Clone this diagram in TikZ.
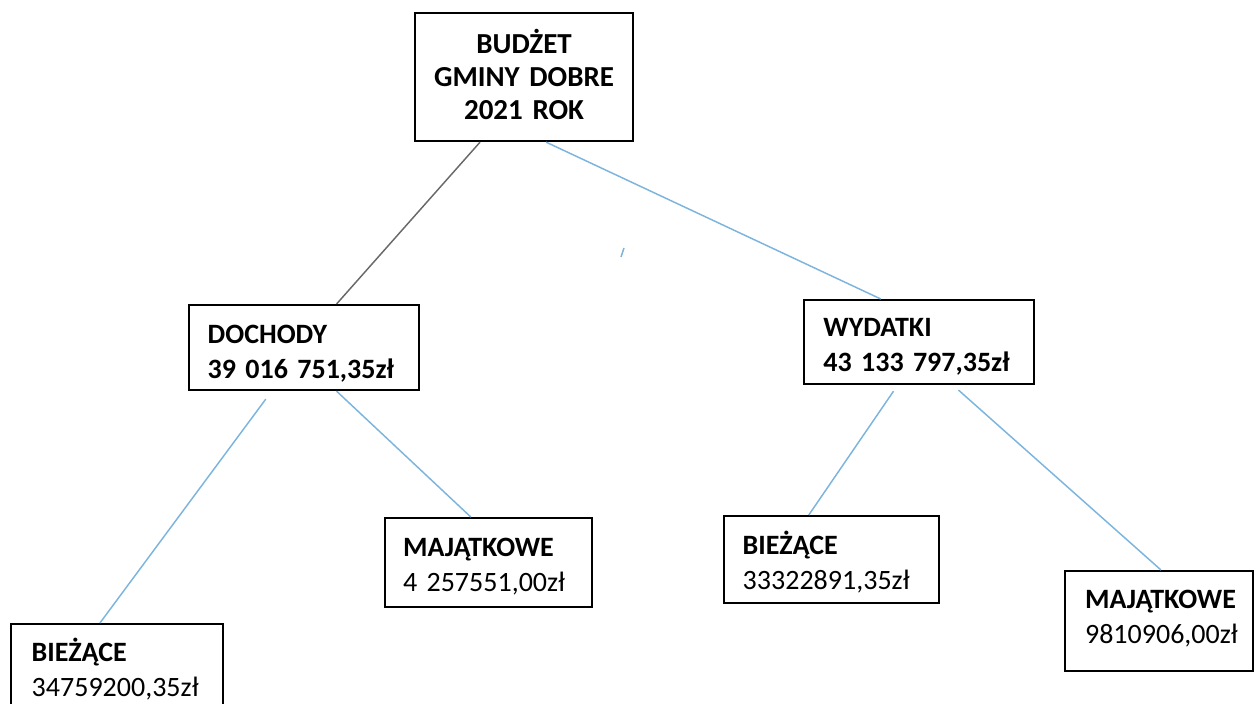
\documentclass[tikz,border=0pt]{standalone}
\usepackage{fontspec}
\setmainfont{Carlito}
\usetikzlibrary{calc}
\definecolor{linkblue}{RGB}{125,180,222}
\definecolor{linkgray}{RGB}{105,105,105}
% first-line strut height and last-line depth (in pt)
\newcommand\topstrut[1]{\rule{0pt}{#1pt}}
\newcommand\botstrut[1]{\rule[-#1pt]{0pt}{0pt}}
\begin{document}
\begin{tikzpicture}[x=0.75pt,y=-0.75pt,
  box/.style={draw=black, line width=1.6pt, anchor=north west, inner xsep=3pt, inner ysep=0pt, align=left,
    font=\fontsize{21}{26.25}\selectfont},
  topbox/.style={draw=black, line width=1.6pt, anchor=north west, inner xsep=3pt, inner ysep=0pt, align=center,
    font=\fontsize{21.75}{24.75}\selectfont\bfseries, text width=157.5pt, minimum height=96pt},
  blueline/.style={draw=linkblue, line width=1.1pt},
  grayline/.style={draw=linkgray, line width=1.1pt}]
\useasboundingbox (0,0) rectangle (1255,703);

\node[topbox] (top) at (414,12) {\topstrut{30}BUDŻET\\GMINY DOBRE\\2021 ROK\botstrut{16.5}};

\node[box, text width=166.5pt, minimum height=63.75pt] (doch) at (188,304)
  {\topstrut{28.5}\hspace*{11pt}\textbf{DOCHODY}\\\hspace*{11pt}\textbf{39 016 751,35zł}\botstrut{9}};
\node[box, text width=166.5pt, minimum height=63pt] (wyd) at (803,299)
  {\topstrut{27}\hspace*{11.5pt}\textbf{WYDATKI}\\\hspace*{11.5pt}\textbf{43 133 797,35zł}\botstrut{9.75}};

\node[box, text width=153pt, minimum height=75pt] (dbiez) at (10,623)
  {\topstrut{27.75}\hspace*{12.5pt}\textbf{BIEŻĄCE}\\\hspace*{12.5pt}34759200,35zł\botstrut{21}};
\node[box, text width=149.25pt, minimum height=66.75pt] (dmaj) at (384,517)
  {\topstrut{28.5}\hspace*{10.5pt}\textbf{MAJĄTKOWE}\\\hspace*{10.5pt}4 257551,00zł\botstrut{12}};
\node[box, text width=155.25pt, minimum height=65.25pt] (wbiez) at (723,515)
  {\topstrut{28.5}\hspace*{11pt}\textbf{BIEŻĄCE}\\\hspace*{11pt}33322891,35zł\botstrut{10.5}};
\node[box, text width=135pt, minimum height=75pt] (wmaj) at (1064,570)
  {\topstrut{27.75}\hspace*{12pt}\textbf{MAJĄTKOWE}\\\hspace*{12pt}9810906,00zł\botstrut{21}};

\draw[grayline] ($(top.south west)!0.30!(top.south east)$) -- ($(doch.north west)!0.64!(doch.north east)$);
\draw[blueline] ($(top.south west)!0.60!(top.south east)$) -- ($(wyd.north west)!0.335!(wyd.north east)$);
\draw[blueline] ($(doch.south west)!0.335!(doch.south east)+(0,8)$) -- ($(dbiez.north west)!0.42!(dbiez.north east)$);
\draw[blueline] ($(doch.south west)!0.64!(doch.south east)$) -- ($(dmaj.north west)!0.415!(dmaj.north east)$);
\draw[blueline] ($(wyd.south west)!0.39!(wyd.south east)+(0,6)$) -- ($(wbiez.north west)!0.395!(wbiez.north east)$);
\draw[blueline] ($(wyd.south west)!0.67!(wyd.south east)+(0,5)$) -- ($(wmaj.north west)!0.51!(wmaj.north east)$);

\coordinate (m1) at (621,257);
\coordinate (m2) at (624,248);
\draw[blueline] (m1) -- (m2);
\end{tikzpicture}
\end{document}
